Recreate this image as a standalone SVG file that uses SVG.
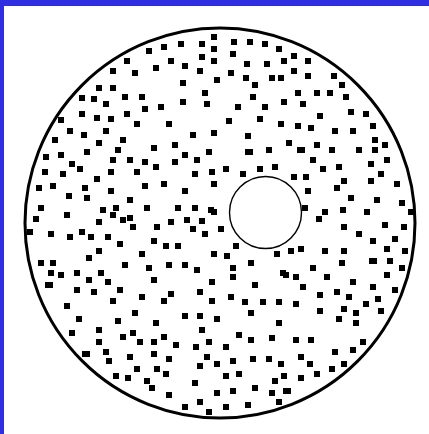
<svg xmlns="http://www.w3.org/2000/svg" width="429" height="434" viewBox="0 0 429 434">
<style>
.frame{fill:#2f2fe1}
.dots{fill:#000}
.outer{fill:none;stroke:#000;stroke-width:3}
.inner{fill:#fff;stroke:#000;stroke-width:1.4}
</style>
<rect x="0" y="0" width="429" height="434" fill="#fff"/>
<rect class="frame" x="0" y="0" width="429" height="6"/>
<rect class="frame" x="0" y="0" width="4" height="434"/>
<g id="disc">
<path class="dots" d="M211,34h6v6h-6z M199,41h6v6h-6z M178,41h6v6h-6z M161,44h6v6h-6z M146,48h6v6h-6z M211,46h6v6h-6z M199,54h6v6h-6z M211,58h6v6h-6z M168,58h6v6h-6z M182,63h6v6h-6z M153,65h6v6h-6z M197,68h6v6h-6z M124,58h6v6h-6z M110,68h6v6h-6z M132,70h6v6h-6z M214,77h6v6h-6z M180,80h6v6h-6z M96,85h6v6h-6z M110,85h6v6h-6z M202,90h6v6h-6z M79,95h6v6h-6z M91,96h6v6h-6z M103,101h6v6h-6z M122,94h6v6h-6z M139,94h6v6h-6z M158,104h6v6h-6z M180,99h6v6h-6z M204,101h6v6h-6z M142,106h6v6h-6z M79,111h6v6h-6z M94,115h6v6h-6z M108,116h6v6h-6z M124,111h6v6h-6z M58,117h6v6h-6z M134,121h6v6h-6z M166,121h6v6h-6z M67,128h6v6h-6z M81,132h6v6h-6z M103,128h6v6h-6z M190,132h6v6h-6z M211,130h6v6h-6z M52,137h6v6h-6z M96,140h6v6h-6z M120,137h6v6h-6z M172,142h6v6h-6z M151,145h6v6h-6z M84,149h6v6h-6z M115,147h6v6h-6z M206,149h6v6h-6z M58,152h6v6h-6z M43,154h6v6h-6z M110,157h6v6h-6z M127,157h6v6h-6z M142,159h6v6h-6z M182,152h6v6h-6z M194,157h6v6h-6z M172,159h6v6h-6z M69,161h6v6h-6z M77,166h6v6h-6z M42,169h6v6h-6z M60,171h6v6h-6z M108,169h6v6h-6z M134,169h6v6h-6z M153,164h6v6h-6z M209,169h6v6h-6z M192,171h6v6h-6z M94,176h6v6h-6z M142,183h6v6h-6z M161,181h6v6h-6z M211,181h6v6h-6z M36,185h6v6h-6z M50,183h6v6h-6z M82,185h6v6h-6z M108,188h6v6h-6z M182,188h6v6h-6z M66,193h6v6h-6z M84,195h6v6h-6z M127,197h6v6h-6z M38,205h6v6h-6z M100,207h6v6h-6z M113,205h6v6h-6z M144,205h6v6h-6z M175,205h6v6h-6z M192,205h6v6h-6z M208,207h6v6h-6z M64,212h6v6h-6z M110,212h6v6h-6z M120,217h6v6h-6z M33,216h6v6h-6z M96,219h6v6h-6z M127,215h6v6h-6z M168,219h6v6h-6z M184,217h6v6h-6z M199,218h6v6h-6z M211,209h6v6h-6z"/>
<path class="dots" d="M231,39h6v6h-6z M247,39h6v6h-6z M262,41h6v6h-6z M276,46h6v6h-6z M230,51h6v6h-6z M244,61h6v6h-6z M264,61h6v6h-6z M281,58h6v6h-6z M291,53h6v6h-6z M305,58h6v6h-6z M228,70h6v6h-6z M243,75h6v6h-6z M269,75h6v6h-6z M278,75h6v6h-6z M291,68h6v6h-6z M305,73h6v6h-6z M331,73h6v6h-6z M252,82h6v6h-6z M339,82h6v6h-6z M295,90h6v6h-6z M314,90h6v6h-6z M327,90h6v6h-6z M343,94h6v6h-6z M250,94h6v6h-6z M281,99h6v6h-6z M300,101h6v6h-6z M235,104h6v6h-6z M262,104h6v6h-6z M348,109h6v6h-6z M363,111h6v6h-6z M317,113h6v6h-6z M226,118h6v6h-6z M257,116h6v6h-6z M278,121h6v6h-6z M295,123h6v6h-6z M308,125h6v6h-6z M332,128h6v6h-6z M350,128h6v6h-6z M370,123h6v6h-6z M245,133h6v6h-6z M372,137h6v6h-6z M286,140h6v6h-6z M314,142h6v6h-6z M382,142h6v6h-6z M245,149h8v6h-8z M266,147h6v6h-6z M297,147h8v6h-8z M329,147h6v6h-6z M356,147h6v6h-6z M372,147h6v6h-6z M310,157h6v6h-6z M384,157h6v6h-6z M223,166h6v6h-6z M240,171h6v6h-6z M257,166h6v6h-6z M272,164h6v6h-6z M320,166h6v6h-6z M336,164h6v6h-6z M368,161h6v6h-6z M378,171h6v6h-6z M291,174h6v6h-6z M303,174h6v6h-6z M341,178h6v6h-6z M368,178h6v6h-6z M394,181h6v6h-6z M334,185h6v6h-6z M305,188h6v6h-6z M348,195h6v6h-6z M374,197h6v6h-6z M399,200h6v6h-6z M302,205h6v6h-6z M340,207h6v6h-6z M322,209h6v6h-6z M364,209h6v6h-6z M408,209h6v6h-6z M316,216h6v6h-6z"/>
<path class="dots" d="M27,229h6v6h-6z M48,231h6v6h-6z M67,234h6v6h-6z M79,229h6v6h-6z M88,234h6v6h-6z M105,234h6v6h-6z M130,224h6v6h-6z M154,224h6v6h-6z M190,226h6v6h-6z M202,231h6v6h-6z M117,241h6v6h-6z M151,238h6v6h-6z M163,243h6v6h-6z M175,243h6v6h-6z M96,248h6v6h-6z M86,255h6v6h-6z M139,251h6v6h-6z M211,251h6v6h-6z M38,260h6v6h-6z M50,260h6v6h-6z M122,262h6v6h-6z M146,265h6v6h-6z M166,262h6v6h-6z M182,262h6v6h-6z M194,267h6v6h-6z M48,270h6v6h-6z M58,272h6v6h-6z M74,270h6v6h-6z M98,270h6v6h-6z M86,277h6v6h-6z M105,279h6v6h-6z M151,277h6v6h-6z M45,282h8v6h-8z M209,279h6v6h-6z M74,287h6v6h-6z M91,289h6v6h-6z M117,287h6v6h-6z M168,291h6v6h-6z M197,289h6v6h-6z M139,294h6v6h-6z M161,298h6v6h-6z M110,298h6v6h-6z M209,298h6v6h-6z M64,303h6v6h-6z M132,310h6v6h-6z M182,313h6v6h-6z M197,313h6v6h-6z M76,316h6v6h-6z M115,318h6v6h-6z M153,320h6v6h-6z M214,316h6v6h-6z M69,330h6v6h-6z M96,327h6v6h-6z M130,330h6v6h-6z M199,327h6v6h-6z M96,339h6v6h-6z M120,334h6v6h-6z M137,339h6v6h-6z M151,339h6v6h-6z M161,334h6v6h-6z M173,342h6v6h-6z M193,344h6v6h-6z M206,339h6v6h-6z M82,351h8v6h-8z M103,349h6v6h-6z M127,354h6v6h-6z M151,351h6v6h-6z M166,356h6v6h-6z M204,354h6v6h-6z M106,358h6v6h-6z M197,363h6v6h-6z M134,366h6v6h-6z M154,366h6v6h-6z M214,361h6v6h-6z M163,371h6v6h-6z M113,373h6v6h-6z M125,375h6v6h-6z M144,378h6v6h-6z M149,385h6v6h-6z M192,380h6v6h-6z M166,392h6v6h-6z M214,390h6v6h-6z M182,404h6v6h-6z M197,399h6v6h-6z M206,409h6v6h-6z"/>
<path class="dots" d="M218,226h6v6h-6z M341,224h6v6h-6z M382,222h6v6h-6z M401,224h6v6h-6z M356,231h6v6h-6z M370,238h6v6h-6z M392,236h6v6h-6z M233,243h6v6h-6z M274,251h6v6h-6z M288,248h6v6h-6z M298,246h6v6h-6z M322,248h6v6h-6z M341,248h6v6h-6z M384,246h6v6h-6z M402,248h6v6h-6z M224,253h6v6h-6z M248,260h6v6h-6z M339,260h6v6h-6z M369,258h8v6h-8z M387,258h6v6h-6z M230,265h6v6h-6z M280,270h6v6h-6z M283,272h6v6h-6z M310,265h6v6h-6z M399,265h6v6h-6z M230,274h6v6h-6z M293,274h6v6h-6z M324,274h6v6h-6z M384,272h6v6h-6z M252,282h6v6h-6z M300,284h6v6h-6z M350,279h6v6h-6z M370,284h6v6h-6z M392,287h6v6h-6z M228,294h6v6h-6z M317,292h6v6h-6z M334,289h6v6h-6z M346,294h6v6h-6z M242,299h6v6h-6z M260,299h6v6h-6z M276,299h6v6h-6z M293,301h6v6h-6z M363,301h6v6h-6z M375,296h6v6h-6z M248,310h6v6h-6z M317,308h6v6h-6z M341,306h6v6h-6z M353,310h6v6h-6z M378,308h6v6h-6z M276,320h6v6h-6z M336,316h6v6h-6z M353,320h6v6h-6z M236,332h6v6h-6z M248,337h6v6h-6z M269,335h6v6h-6z M293,337h6v6h-6z M308,337h6v6h-6z M360,339h6v6h-6z M223,344h6v6h-6z M332,349h6v6h-6z M350,347h6v6h-6z M250,356h6v6h-6z M266,356h6v6h-6z M298,354h6v6h-6z M230,358h6v6h-6z M278,361h6v6h-6z M307,361h6v6h-6z M341,361h6v6h-6z M329,366h6v6h-6z M223,373h6v6h-6z M236,371h6v6h-6z M281,373h6v6h-6z M272,378h6v6h-6z M298,375h6v6h-6z M314,371h6v6h-6z M252,385h6v6h-6z M230,388h6v6h-6z M283,388h8v6h-8z M269,390h6v6h-6z M223,404h6v6h-6z M245,402h6v6h-6z M276,399h6v6h-6z"/>
<circle class="outer" cx="220" cy="223" r="195"/>
<circle class="inner" cx="265.5" cy="212.5" r="36"/>
</g>
</svg>
